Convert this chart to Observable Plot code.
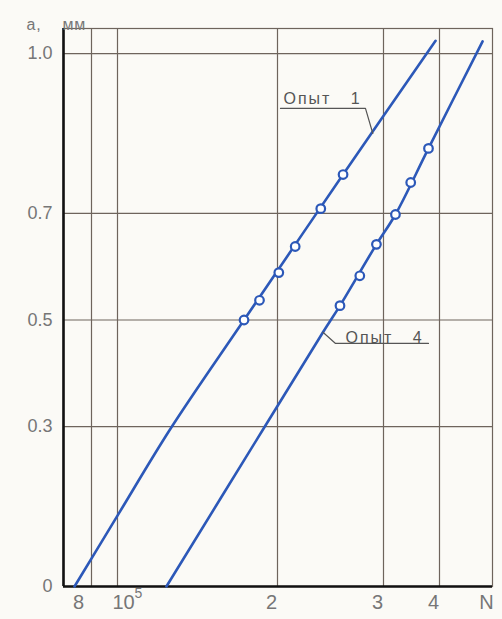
<!DOCTYPE html>
<html><head><meta charset="utf-8">
<script src="https://cdn.jsdelivr.net/npm/d3@7"></script>
<script src="https://cdn.jsdelivr.net/npm/@observablehq/plot@0.6"></script>
<style>
body{margin:0;background:#fbfaf6;}
#chart svg{display:block;background:#fbfaf6;}
</style></head><body><div id="chart"></div>
<script>
// Axis ticks (N is cycles, a is crack length in mm)
const xTicks = [8e4, 1e5, 2e5, 3e5, 4e5];
const xTickLabels = ["8", "10", "2", "3", "4"];
const xPowerLabel = "5";          // superscript of 10^5
const xEndLabel = "N";
const yTicks = [0, 0.3, 0.5, 0.7, 1.0];
const yTickLabels = ["0", "0.3", "0.5", "0.7", "1.0"];
const yTitle = "a,\u00a0\u00a0\u00a0\u00a0мм";

// Опыт 1: measured points and fitted line
const op1PointsN = [1.73e5, 1.85e5, 2.01e5, 2.14e5, 2.36e5, 2.57e5];
const op1PointsA = [0.50, 0.537, 0.589, 0.638, 0.709, 0.773];
const op1LineN = [6.92e4, 1.0e5, 1.258e5, 1.73e5, 2.57e5, 3.92e5];
const op1LineA = [0, 0.133, 0.296, 0.50, 0.773, 1.024];

// Опыт 4: measured points and fitted line
const op4PointsN = [2.54e5, 2.74e5, 2.92e5, 3.19e5, 3.45e5, 3.78e5];
const op4PointsA = [0.527, 0.583, 0.642, 0.698, 0.758, 0.822];
const op4LineN = [1.236e5, 1.882e5, 2.38e5, 2.54e5, 2.92e5, 3.19e5, 3.78e5, 4.99e5];
const op4LineA = [0, 0.296, 0.477, 0.527, 0.642, 0.698, 0.822, 1.023];

// Annotations
const label1 = "Опыт\u00a0\u00a0\u00a01";
const label1N = 2.046e5, label1A = 0.915;
const leader1N = [2.023e5, 2.80e5, 2.88e5];
const leader1A = [0.897, 0.897, 0.850];
const label4 = "Опыт\u00a0\u00a0\u00a04";
const label4N = 2.594e5, label4A = 0.467;
const leader4N = [3.78e5, 2.497e5, 2.38e5];
const leader4A = [0.456, 0.456, 0.477];

const zip = (xs, ys) => xs.map((N, i) => ({N, a: ys[i]}));
const op1Pts = zip(op1PointsN, op1PointsA);
const op1Line = zip(op1LineN, op1LineA);
const op4Pts = zip(op4PointsN, op4PointsA);
const op4Line = zip(op4LineN, op4LineA);
const lead1 = zip(leader1N, leader1A);
const lead4 = zip(leader4N, leader4A);

const xMin = 6.3e4, xMax = 5.25e5, yMax = 1.047;
const xLabels = xTicks.map((N, i) => ({N, text: xTickLabels[i]}));
xLabels.push({N: xMax, text: xEndLabel});
const yLabelMap = new Map(yTicks.map((t, i) => [t, yTickLabels[i]]));

const blue = "#2c58b8";
const grid = "#6e645c";
const tickFill = "#767676";
const font = "Liberation Sans, Arial, sans-serif";
const xl = (txt) => xLabels.filter(d => d.text === txt);
const xlOther = xLabels.filter(d => d.text !== "8" && d.text !== "10");
const xText = {x: "N", text: "text", frameAnchor: "bottom", lineAnchor: "top", dy: 8, fontSize: 20, fill: tickFill};

const chart = Plot.plot({
  width: 502,
  height: 619,
  marginLeft: 63,
  marginRight: 10,
  marginTop: 28,
  marginBottom: 33,
  style: {background: "#fbfaf6", fontFamily: font},
  x: {type: "log", domain: [xMin, 8e4, 1e5, 2e5, 3e5, 4e5, xMax], range: [63, 91, 117, 277, 383, 439, 492], axis: null},
  y: {domain: [0, yMax], axis: null},
  marks: [
    Plot.ruleX(xTicks, {stroke: grid, strokeWidth: 1.2}),
    Plot.ruleY(yTicks.filter(d => d > 0), {stroke: grid, strokeWidth: 1.2}),
    Plot.frame({stroke: grid, strokeWidth: 1.2}),
    Plot.ruleX([xMin], {stroke: "#111", strokeWidth: 2.6}),
    Plot.ruleY([0], {stroke: "#111", strokeWidth: 2.6}),
    Plot.text(xlOther, {...xText, dx: -6}),
    Plot.text(xl("8"), {...xText, dx: -13}),
    Plot.text(xl("10"), {...xText, textAnchor: "start", dx: -5}),
    Plot.text(xl("10").map(d => ({...d, text: xPowerLabel})), {...xText, textAnchor: "start", dx: 17, dy: 2, fontSize: 14}),
    Plot.axisY(yTicks, {tickSize: 0, tickPadding: 11, fontSize: 18, fill: tickFill, tickFormat: d => yLabelMap.get(d), label: null}),
    Plot.text([yTitle], {frameAnchor: "top-left", dx: -37, dy: -10, textAnchor: "start", fontSize: 16, fill: "#777", className: "ytitle"}),
    Plot.line(op1Line, {x: "N", y: "a", stroke: blue, strokeWidth: 2.6, curve: "catmull-rom"}),
    Plot.line(op4Line, {x: "N", y: "a", stroke: blue, strokeWidth: 2.6, curve: "catmull-rom"}),
    Plot.dot(op1Pts, {x: "N", y: "a", r: 4.3, fill: "white", stroke: blue, strokeWidth: 2.2}),
    Plot.dot(op4Pts, {x: "N", y: "a", r: 4.3, fill: "white", stroke: blue, strokeWidth: 2.2}),
    Plot.line(lead1, {x: "N", y: "a", stroke: "#555", strokeWidth: 1.2}),
    Plot.line(lead4, {x: "N", y: "a", stroke: "#555", strokeWidth: 1.2}),
    Plot.text([label1], {x: () => label1N, y: () => label1A, textAnchor: "start", fontSize: 16, fill: "#555", className: "oplabel"}),
    Plot.text([label4], {x: () => label4N, y: () => label4A, textAnchor: "start", fontSize: 16, fill: "#555", className: "oplabel"})
  ]
});
document.getElementById("chart").appendChild(chart);
d3.select(chart).selectAll(".oplabel text").attr("letter-spacing", "2px");
d3.select(chart).selectAll(".ytitle text").attr("letter-spacing", "0.8px");
</script>
</body></html>
